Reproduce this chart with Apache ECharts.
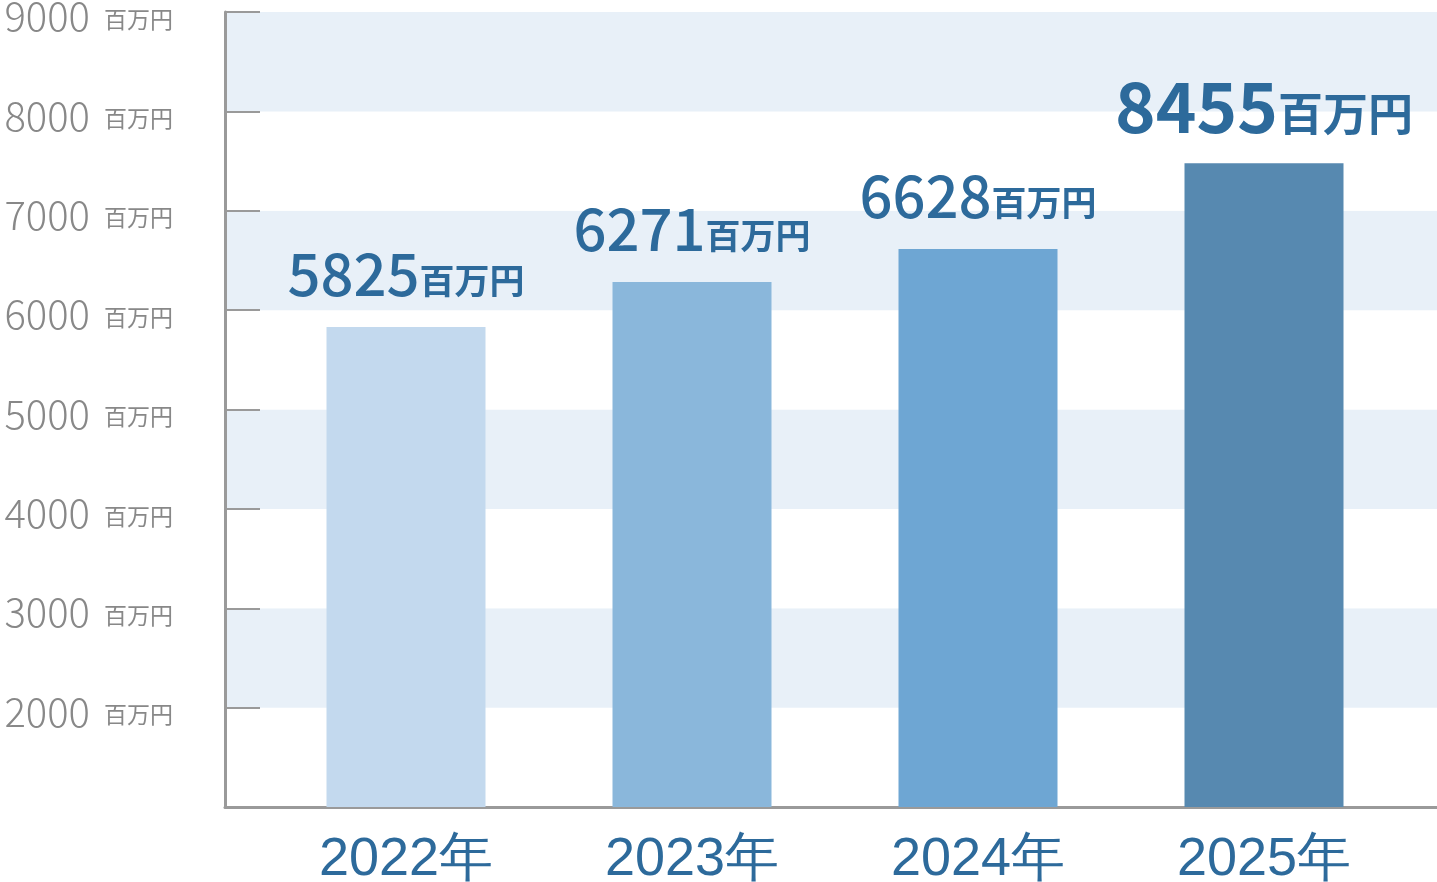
<!DOCTYPE html>
<html><head><meta charset="utf-8">
<script src="https://cdn.jsdelivr.net/npm/echarts@6/dist/echarts.min.js"></script>
<style>html,body{margin:0;padding:0;background:#fff}#c{width:1437px;height:882px}</style>
</head><body><div id="c"></div>
<script>
const categories = ['2022年', '2023年', '2024年', '2025年'];
const barValues = [5830, 6283, 6615, 7478];      // bar heights as drawn
const labelValues = [5825, 6271, 6628, 8455];    // printed values
const barColors = ['#c3d9ee', '#8ab7db', '#6ea6d3', '#5789b0'];
const unit = '百万円';
const yMin = 1000, yMax = 9000, yStep = 1000;

const chart = echarts.init(document.getElementById('c'));
const valColor = '#2d6a9b';
const data = barValues.map((v, i) => {
  const big = i === barValues.length - 1;
  return {
    value: v,
    itemStyle: { color: barColors[i] },
    label: {
      show: true, position: 'top', distance: big ? 22 : 24,
      formatter: '{' + (big ? 'A' : 'a') + '|' + labelValues[i] + '}{' + (big ? 'B' : 'b') + '|' + unit + '}',
      rich: {
        a: { fontFamily: 'Noto Sans CJK JP', fontWeight: 500, fontSize: 58, color: valColor },
        b: { fontFamily: 'Noto Sans CJK JP', fontWeight: 700, fontSize: 35, color: valColor, padding: [14, 0, 0, 0] },
        A: { fontFamily: 'Noto Sans CJK JP', fontWeight: 700, fontSize: 69, color: valColor },
        B: { fontFamily: 'Noto Sans CJK JP', fontWeight: 700, fontSize: 45, color: valColor, padding: [14, 0, 0, 0] }
      }
    }
  };
});

chart.setOption({
  animation: false,
  grid: [
    { left: 225, right: 0, top: 12, bottom: 75, containLabel: false, outerBoundsMode: 'none' },
    { left: 263, right: 30, top: 12, bottom: 75, containLabel: false, outerBoundsMode: 'none' }
  ],
  xAxis: [
    { gridIndex: 0, type: 'category', data: [''], axisLine: { show: true, lineStyle: { color: '#9a9a9a', width: 3 } },
      axisTick: { show: false }, axisLabel: { show: false }, splitLine: { show: false } },
    { gridIndex: 1, type: 'category', data: categories, axisLine: { show: false }, axisTick: { show: false },
      axisLabel: { margin: 26, fontFamily: 'Liberation Sans', fontSize: 54, color: valColor } }
  ],
  yAxis: [
    { gridIndex: 0, type: 'value', min: yMin, max: yMax, interval: yStep,
      axisLine: { show: true, lineStyle: { color: '#9a9a9a', width: 3 } },
      axisTick: { show: true, inside: true, length: 35, lineStyle: { color: '#9a9a9a', width: 2 } },
      splitLine: { show: false },
      splitArea: { show: true, areaStyle: { color: ['#ffffff', '#e8f0f8'] } },
      axisLabel: {
        margin: 52, align: 'right',
        formatter: v => v === yMin ? '' : '{n|' + v + '}{u|' + unit + '}',
        rich: {
          n: { fontFamily: 'Noto Sans CJK JP', fontWeight: 300, fontSize: 40, color: '#888', padding: [8, 0, 0, 0] },
          u: { fontFamily: 'Noto Sans CJK JP', fontWeight: 400, fontSize: 23, color: '#888', padding: [14, 0, 0, 14] }
        }
      } },
    { gridIndex: 1, type: 'value', min: yMin, max: yMax, interval: yStep, show: false, splitLine: { show: false } }
  ],
  series: [{
    type: 'bar', xAxisIndex: 1, yAxisIndex: 1, barWidth: 159, data: data
  }]
});
</script></body></html>
